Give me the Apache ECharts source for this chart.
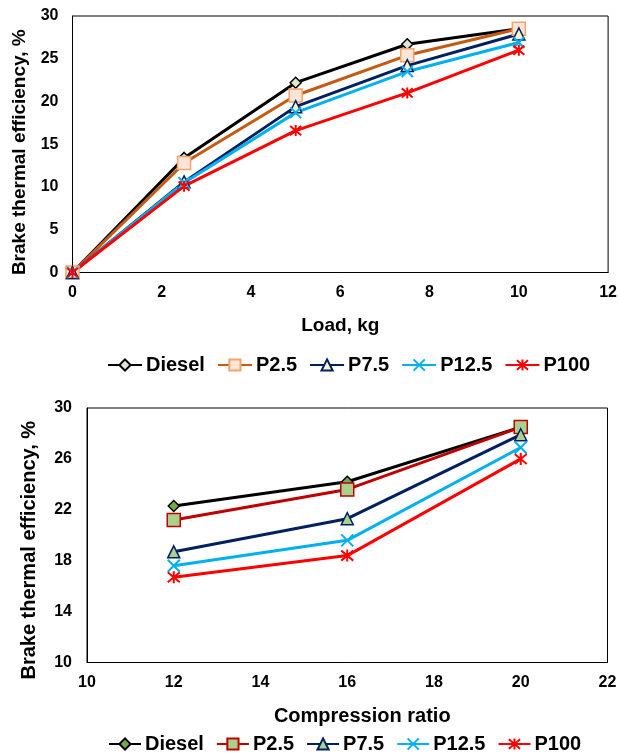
<!DOCTYPE html>
<html>
<head>
<meta charset="utf-8">
<script src="https://cdn.jsdelivr.net/npm/echarts@6/dist/echarts.min.js"></script>
<style>
html, body { margin: 0; padding: 0; background: #fff; }
#main { width: 620px; height: 755px; }
</style>
</head>
<body>
<div id="main"></div>
<script>
// top panel: efficiency vs load
var loadKg = [0, 2.5, 5, 7.5, 10];
var dieselLoad = [0, 13.4, 22.2, 26.7, 28.5];
var p25Load = [0, 12.8, 20.7, 25.4, 28.5];
var p75Load = [0, 10.6, 19.4, 24.2, 27.9];
var p125Load = [0, 10.5, 18.7, 23.5, 26.9];
var p100Load = [0, 10.1, 16.6, 21.0, 26.0];

// bottom panel: efficiency vs compression ratio
var compRatio = [12, 16, 20];
var dieselCR = [22.3, 24.2, 28.5];
var p25CR = [21.2, 23.6, 28.5];
var p75CR = [18.7, 21.3, 27.9];
var p125CR = [17.6, 19.6, 26.9];
var p100CR = [16.7, 18.4, 26.0];

var fuels = ['Diesel', 'P2.5', 'P7.5', 'P12.5', 'P100'];

var FONT = 'Arial, "Liberation Sans", sans-serif';
var xPath = 'path://M0,0L10,10M10,0L0,10';
var starPath = 'path://M0,0L10,10M10,0L0,10M5,-1L5,11';

function pairs(xs, ys) {
    return xs.map(function (x, i) { return [x, ys[i]]; });
}

function line(name, idx, xs, ys, lineColor, symbol, size, fill, border) {
    var isPath = symbol.indexOf('path://') === 0;
    return {
        name: name,
        type: 'line',
        xAxisIndex: idx,
        yAxisIndex: idx,
        data: pairs(xs, ys),
        symbol: symbol,
        symbolSize: size,
        showAllSymbol: true,
        lineStyle: { color: lineColor, width: 3 },
        itemStyle: {
            color: isPath ? lineColor : fill,
            borderColor: border,
            borderWidth: isPath ? 2 : 1.5
        },
        emphasis: { disabled: true },
        animation: false
    };
}

function axisLabel(m) {
    return { color: '#000', fontWeight: 'bold', fontSize: 16, fontFamily: FONT, margin: m };
}

function titleStyle(size, pad) {
    return { color: '#000', fontWeight: 'bold', fontSize: size, fontFamily: FONT, padding: pad };
}

var legendText = { color: '#000', fontWeight: 'bold', fontSize: 20, fontFamily: FONT, padding: [0, 0, 0, -1] };

var myChart = echarts.init(document.getElementById('main'));
var option = {
    backgroundColor: '#fff',
    textStyle: { fontFamily: FONT },
    grid: [
        { left: 72.5, right: 10, top: 16, height: 256.5, show: true, borderColor: '#000', borderWidth: 1 },
        { left: 87, right: 12.5, top: 408, height: 254.5, show: true, borderColor: '#000', borderWidth: 1 }
    ],
    xAxis: [
        {
            gridIndex: 0, type: 'value', min: 0, max: 12, interval: 2,
            name: 'Load, kg', nameLocation: 'middle', nameGap: 44,
            nameTextStyle: titleStyle(19, 0),
            axisLine: { show: true, onZero: false, lineStyle: { color: '#000' } },
            axisTick: { show: false }, splitLine: { show: false },
            axisLabel: axisLabel(12)
        },
        {
            gridIndex: 1, type: 'value', min: 10, max: 22, interval: 2,
            name: 'Compression ratio', nameLocation: 'middle', nameGap: 44,
            nameTextStyle: titleStyle(20, [0, 0, 0, 30]),
            axisLine: { show: true, onZero: false, lineStyle: { color: '#000' } },
            axisTick: { show: false }, splitLine: { show: false },
            axisLabel: axisLabel(12)
        }
    ],
    yAxis: [
        {
            gridIndex: 0, type: 'value', min: 0, max: 30, interval: 5,
            name: 'Brake thermal efficiency, %', nameLocation: 'middle', nameGap: 43,
            nameTextStyle: titleStyle(19, [0, 16, 0, 0]),
            axisLine: { show: true, onZero: false, lineStyle: { color: '#000' } },
            axisTick: { show: false }, splitLine: { show: false },
            axisLabel: axisLabel(14)
        },
        {
            gridIndex: 1, type: 'value', min: 10, max: 30, interval: 4,
            name: 'Brake thermal efficiency, %', nameLocation: 'middle', nameGap: 48,
            nameTextStyle: titleStyle(20, [0, 30, 0, 0]),
            axisLine: { show: true, onZero: false, lineStyle: { color: '#000' } },
            axisTick: { show: false }, splitLine: { show: false },
            axisLabel: axisLabel(15)
        }
    ],
    legend: [
        {
            data: fuels, left: 102, top: 350, itemWidth: 34, itemHeight: 14, itemGap: 12,
            selectedMode: false, textStyle: legendText
        },
        {
            data: fuels.map(function (f) { return f + '_cr'; }), left: 103, top: 729,
            itemWidth: 32, itemHeight: 14, itemGap: 12, selectedMode: false,
            formatter: function (n) { return n.replace('_cr', ''); },
            textStyle: legendText
        }
    ],
    series: [
        line('Diesel', 0, loadKg, dieselLoad, '#000000', 'diamond', 11, '#dde5d3', '#000000'),
        line('P2.5', 0, loadKg, p25Load, '#c55a11', 'rect', 13, '#fbe5d6', '#f4a46a'),
        line('P7.5', 0, loadKg, p75Load, '#002060', 'triangle', 12, '#fff2cc', '#002060'),
        line('P12.5', 0, loadKg, p125Load, '#00b0f0', xPath, 11, '#00b0f0', '#00b0f0'),
        line('P100', 0, loadKg, p100Load, '#ff0000', starPath, 11, '#ff0000', '#ff0000'),

        line('Diesel_cr', 1, compRatio, dieselCR, '#000000', 'diamond', 11, '#70ad47', '#000000'),
        line('P2.5_cr', 1, compRatio, p25CR, '#c00000', 'rect', 13, '#a9d18e', '#c00000'),
        line('P7.5_cr', 1, compRatio, p75CR, '#002060', 'triangle', 12, '#a9d18e', '#002060'),
        line('P12.5_cr', 1, compRatio, p125CR, '#00b0f0', xPath, 12, '#00b0f0', '#00b0f0'),
        line('P100_cr', 1, compRatio, p100CR, '#ff0000', starPath, 12, '#ff0000', '#ff0000')
    ]
};
myChart.setOption(option);
</script>
</body>
</html>
